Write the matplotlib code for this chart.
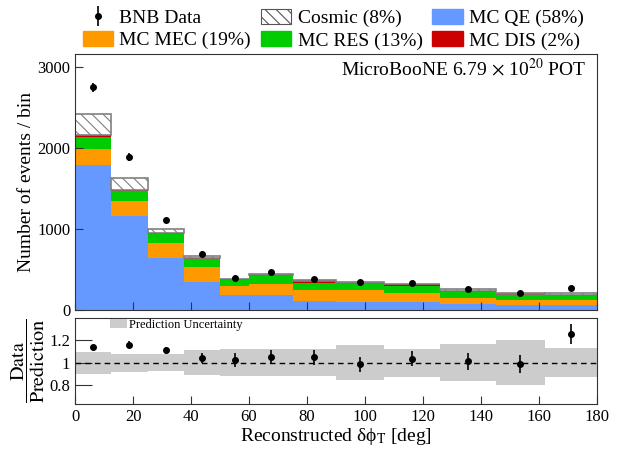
import numpy as np
import matplotlib
matplotlib.use('Agg')
import matplotlib.pyplot as plt
from matplotlib.patches import Patch

plt.rcParams['font.family'] = ['Liberation Serif', 'DejaVu Serif']
plt.rcParams['mathtext.fontset'] = 'stix'
plt.rcParams['hatch.linewidth'] = 0.8

# binning in reconstructed delta phi_T [deg]
bin_edges = [0, 12.5, 25, 37.5, 50, 60, 75, 90, 106.5, 126, 145, 162, 180]

# stacked MC prediction per bin
mc_qe = [1788, 1159, 641, 345, 189, 185, 115, 103, 95, 78, 66, 66]
mc_mec = [197, 189, 189, 185, 107, 135, 135, 140, 118, 74, 57, 53]
mc_res = [152, 123, 107, 103, 70, 95, 83, 74, 83, 70, 66, 58]
mc_dis = [21, 17, 16, 12, 12, 16, 20, 20, 20, 16, 12, 12]
cosmic = [262, 140, 46, 21, 4, 13, 13, 8, 9, 17, 12, 24]

# BNB data and its stat. error
bnb_data = [2750, 1892, 1108, 693, 392, 467, 383, 340, 337, 258, 210, 268]
bnb_err = [54, 46, 33, 30, 24, 27, 23, 23, 23, 20, 17.5, 19]

# fractional uncertainty on the prediction
pred_unc = [0.10, 0.08, 0.075, 0.11, 0.12, 0.12, 0.12, 0.155, 0.125, 0.163, 0.20, 0.127]

edges = np.array(bin_edges)
left = edges[:-1]
width = np.diff(edges)
centers = left + width / 2

fig = plt.figure(figsize=(6.18, 4.49), dpi=100)
ax = fig.add_axes([75 / 618, 1 - 310 / 449, 522 / 618, 256 / 449])
rax = fig.add_axes([75 / 618, 1 - 404 / 449, 522 / 618, 86 / 449])

c_qe = '#6699ff'
c_mec = '#ff9900'
c_res = '#00cc00'
c_dis = '#cc0000'

bottom = np.zeros(len(left))
for vals, col in [(mc_qe, c_qe), (mc_mec, c_mec), (mc_res, c_res), (mc_dis, c_dis)]:
    ax.bar(left, vals, width=width, align='edge', bottom=bottom, color=col, linewidth=0)
    bottom = bottom + np.array(vals)
ax.bar(left, cosmic, width=width, align='edge', bottom=bottom, facecolor='white',
       edgecolor='#808080', hatch='\\\\\\', linewidth=1.2)
total = bottom + np.array(cosmic)

data = np.array(bnb_data)
err = np.array(bnb_err)
data_h = ax.errorbar(centers, data, yerr=err, fmt='o', color='black', ms=4,
                     elinewidth=1.2, capsize=0)

ax.set_xlim(0, 180)
ax.set_ylim(0, 1.15 * data.max())
ax.set_yticks([0, 1000, 2000, 3000])
ax.set_xticks(range(0, 181, 20))
ax.tick_params(axis='x', labelbottom=False)
ax.tick_params(direction='in', length=6, labelsize=12, colors='#333333')
ax.tick_params(axis='y', labelcolor='black')
ax.set_ylabel('Number of events / bin', fontsize=14)
ax.yaxis.set_label_coords(-0.076, 0.5)
ax.text(0.979, 0.985, r'MicroBooNE 6.79 $\times$ 10$^{20}$ POT', transform=ax.transAxes,
        ha='right', va='top', fontsize=14)

handles = [
    data_h,
    Patch(color=c_mec),
    Patch(facecolor='white', edgecolor='#555555', hatch='\\\\\\', linewidth=0.8),
    Patch(color=c_res),
    Patch(color=c_qe),
    Patch(color=c_dis),
]
labels = ['BNB Data', 'MC MEC (19%)', 'Cosmic (8%)', 'MC RES (13%)', 'MC QE (58%)', 'MC DIS (2%)']
fig.legend(handles, labels, ncol=3, loc='upper left', bbox_to_anchor=(82.5 / 618, 0.98),
           frameon=False, fontsize=14, handlelength=1.55, handleheight=0.78,
           columnspacing=0.5, handletextpad=0.35, labelspacing=0.22,
           borderpad=0, borderaxespad=0)

# ratio panel
pred = total
ratio = data / pred
ratio_err = err / pred
unc = np.array(pred_unc)
rax.bar(left, 2 * unc, width=width, align='edge', bottom=1 - unc, color='#cccccc',
        linewidth=0, label='Prediction Uncertainty')
rax.axhline(1, color='black', linestyle='--', linewidth=1, dashes=(4, 3))
rax.errorbar(centers, ratio, yerr=ratio_err, fmt='o', color='black', ms=4,
             elinewidth=1.2, capsize=0)
rax.set_xlim(0, 180)
rax.set_ylim(0.63, 1.4)
rax.set_yticks([0.8, 1.0, 1.2])
rax.set_yticklabels(['0.8', '1', '1.2'])
rax.set_xticks(range(0, 181, 20))
rax.tick_params(direction='in', labelsize=12, colors='#333333')
rax.tick_params(axis='y', length=12, labelcolor='black')
rax.tick_params(axis='x', length=6, labelcolor='black')
rax.set_ylabel(r'$\dfrac{\mathrm{Data}}{\mathrm{Prediction}}$', fontsize=14.5)
rax.yaxis.set_label_coords(-0.053, 0.5)
rax.set_xlabel('Reconstructed δϕ$_{\\mathrm{T}}$ [deg]', fontsize=14, labelpad=1)
rax.legend(loc='upper left', bbox_to_anchor=(0.067, 0.99), frameon=False, fontsize=9,
           handlelength=1.36, handleheight=0.7, handletextpad=0.2,
           borderpad=0, borderaxespad=0)

for a in (ax, rax):
    for s in a.spines.values():
        s.set_color('#333333')

fig.savefig('out.png', dpi=100)
